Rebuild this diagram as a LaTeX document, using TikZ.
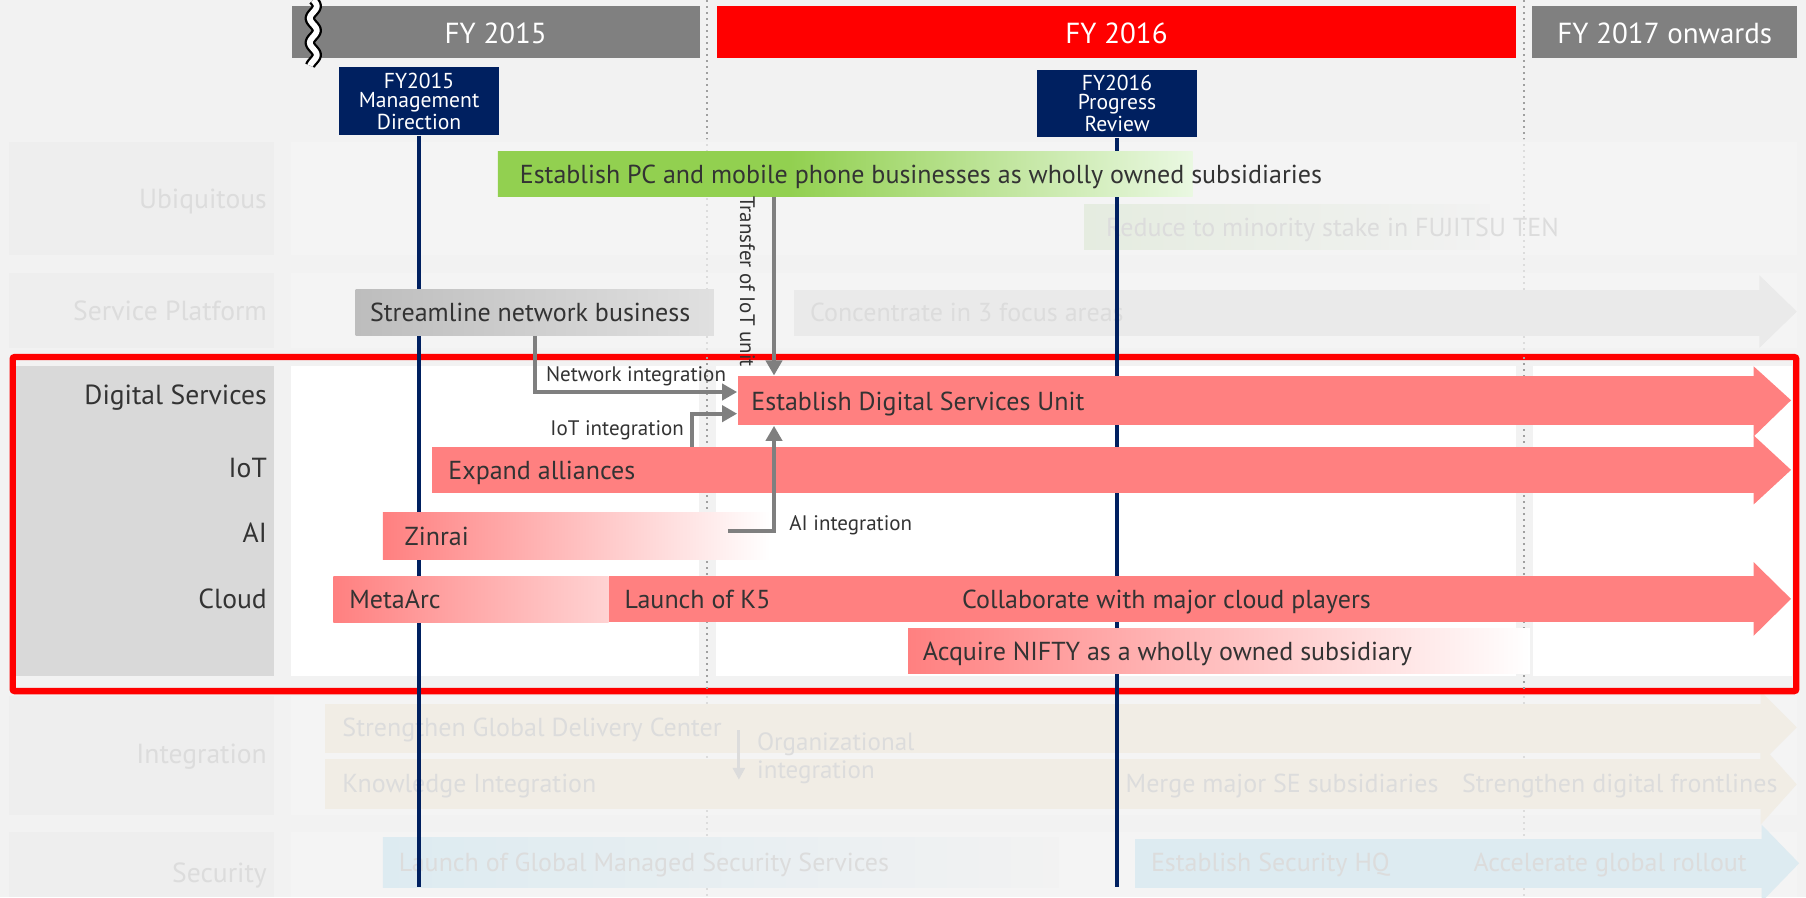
\documentclass[tikz,border=0pt]{standalone}
\usepackage{fontspec}
\setmainfont{PT Sans}
\usetikzlibrary{arrows.meta}

\definecolor{pagebg}{HTML}{F2F2F2}
\definecolor{panelL}{HTML}{EEEEEE}
\definecolor{panelR}{HTML}{F4F4F4}
\definecolor{yeargray}{HTML}{808080}
\definecolor{navy}{HTML}{002060}
\definecolor{barred}{HTML}{FF8080}
\definecolor{barpink}{HTML}{FFD3D3}
\definecolor{dsgray}{HTML}{D9D9D9}
\definecolor{ink}{HTML}{333333}
\definecolor{ghost}{HTML}{DCDCDC}
\definecolor{conn}{HTML}{7F7F7F}
\definecolor{leaf}{HTML}{92D050}
\definecolor{leafpale}{HTML}{EAF8E2}
\definecolor{tenleaf}{HTML}{E5ECE0}
\definecolor{slate}{HTML}{BDBDBD}
\definecolor{slatepale}{HTML}{E0E0E0}
\definecolor{fog}{HTML}{EAEAEA}
\definecolor{sand}{HTML}{F1EDE5}
\definecolor{ice}{HTML}{DDEBF1}
\definecolor{dotdark}{HTML}{A0A0A0}
\definecolor{dotpale}{HTML}{DCDCDC}

\newcommand{\un}{0.5759pt}
\pgfdeclarehorizontalshading{pcfade}{100bp}{color(0bp)=(leaf); color(46bp)=(leaf); color(75bp)=(leafpale); color(100bp)=(leafpale)}

\begin{document}
\begin{tikzpicture}[x=\un, y=-\un,
    year/.style={fill=#1, text=white, minimum height=45*\un, inner sep=0pt,
      anchor=north west, text height=2.2ex, text depth=0pt,
      font=\fontsize{14.5}{16}\selectfont},
    milestone/.style={fill=navy, text=white, align=center, minimum width=139*\un,
      minimum height=59*\un, inner sep=0pt, anchor=north west,
      font=\fontsize{10.8}{9.8}\selectfont},
    slab/.style args={#1/#2}{minimum width=#1*\un, minimum height=#2*\un,
      inner sep=0pt, anchor=north west},
    bar text/.style={anchor=west, inner sep=0pt, text=ink, text height=1.9ex,
      text depth=0pt, font=\fontsize{13}{15}\selectfont},
    ghost text/.style={bar text, text=ghost},
    row label/.style={anchor=east, inner sep=0pt, text=#1, text height=1.9ex,
      text depth=0pt, font=\fontsize{13.8}{16}\selectfont},
    dotline/.style={draw=#1, line width=1pt, dash pattern=on 1pt off 2pt},
    link/.style={draw=conn, line width=1.9pt, -{Triangle[length=7.5pt,width=8pt]}},
    link label/.style={text=ink, inner sep=0pt, font=\fontsize{10.5}{12}\selectfont}]

\fill[pagebg] (0,0) rectangle (1568,779);
\useasboundingbox (0,0) rectangle (1568,779);

\fill[panelL] (8,123) rectangle (238,221);
\fill[panelR] (253,123) rectangle (1560,221);
\fill[panelL] (8,237) rectangle (238,302);
\fill[panelR] (253,237) rectangle (1560,302);
\fill[panelL] (8,604) rectangle (238,708);
\fill[panelR] (253,604) rectangle (1560,708);
\fill[panelL] (8,722) rectangle (238,779);
\fill[panelR] (253,722) rectangle (1560,779);

\draw[dotline=dotpale] (614,0) -- (614,779);
\draw[dotline=dotpale] (1323,0) -- (1323,779);
\draw[dotline=dotdark] (614,0) -- (614,120);
\draw[dotline=dotdark] (1323,0) -- (1323,120);

\node[year=yeargray, minimum width=354*\un] (fy15) at (253,5) {FY 2015};
\node[year=red, minimum width=694*\un] (fy16) at (622,5) {FY 2016};
\node[year=yeargray, minimum width=230*\un] (fy17) at (1330,5) {FY 2017 onwards};
\draw[black, line width=9*\un] plot[domain=0:57, samples=60, smooth] ({272+3*sin(\x*17)}, \x);
\draw[white, line width=5*\un] plot[domain=0:57, samples=60, smooth] ({272+3*sin(\x*17)}, \x);

\node[row label=ghost] (ubi) at (232,173) {Ubiquitous};
\node[row label=ghost] (svc) at (232,270) {Service Platform};
\node[row label=ghost] (intg) at (232,655) {Integration};
\node[row label=ghost] (sec) at (232,758) {Security};

\node[slab=352/39, left color=tenleaf, right color=pagebg] (ten) at (941,177) {};
\node[ghost text] (tent) at (960,197) {Reduce to minority stake in FUJITSU TEN};

\node[slab=839/40, fill=fog] (foc) at (689,251) {};
\fill[fog] (1527.5,239) -- (1560,270.5) -- (1527.5,302) -- cycle;
\node[ghost text] (foct) at (703,271) {Concentrate in 3 focus areas};

\node[slab=1247/42, fill=sand] (gdc) at (282,611) {};
\fill[sand] (1528.5,600) -- (1560,631.5) -- (1528.5,663) -- cycle;
\node[slab=1247/43, fill=sand] (know) at (282,659) {};
\fill[sand] (1528.5,646) -- (1560,681) -- (1528.5,716) -- cycle;
\node[ghost text] (gdct) at (297,631) {Strengthen Global Delivery Center};
\node[ghost text] (knowt) at (297,680) {Knowledge Integration};
\coordinate (orgtop) at (641.5,634);
\coordinate (orgbot) at (641.5,677);
\draw[draw=ghost, line width=1.5pt, -{Triangle[length=6pt,width=6pt]}] (orgtop) -- (orgbot);
\node[ghost text, align=left, font=\fontsize{12.5}{14}\selectfont, text height=, text depth=, anchor=west] (orgt) at (657,658) {Organizational\\integration};
\node[ghost text] (merget) at (977,680) {Merge major SE subsidiaries};
\node[ghost text] (frontt) at (1269,680) {Strengthen digital frontlines};

\node[slab=587/43, left color=ice, right color=pagebg] (mss) at (332,727) {};
\node[ghost text] (msst) at (346,748) {Launch of Global Managed Security Services};
\node[slab=545/43, fill=ice] (shq) at (985,728) {};
\fill[ice] (1529.5,716) -- (1562,749.5) -- (1529.5,783) -- cycle;
\node[ghost text] (shqt) at (999,748) {Establish Security HQ};
\node[ghost text] (rollt) at (1279,748) {Accelerate global rollout};

\fill[pagebg] (11,310) rectangle (1559.5,600);
\fill[dsgray] (14,318) rectangle (238,587);
\fill[white] (253,318) rectangle (607,587);
\fill[white] (622,318) rectangle (1316,587);
\fill[white] (1331,318) rectangle (1556,587);
\draw[red, line width=5.5*\un, rounded corners=1pt] (11,310) rectangle (1559.5,600);
\draw[dotline=dotdark] (614,310) -- (614,600);
\draw[dotline=dotdark] (1323,310) -- (1323,600);

\node[milestone] (md15) at (294,58) {FY2015\\Management\\Direction};
\node[milestone] (pr16) at (900,60) {FY2016\\Progress\\Review};
\draw[navy, line width=3*\un] (md15.south) -- (md15.south |- 0,770);
\draw[navy, line width=3*\un] (pr16.south) -- (pr16.south |- 0,770);

\node[slab=603/39, shade, shading=pcfade] (pc) at (432,131) {};
\node[bar text] (pct) at (451,151) {Establish PC and mobile phone businesses as wholly owned subsidiaries};
\node[slab=311/40, left color=slate, right color=slatepale] (sn) at (308.5,251) {};
\node[bar text] (snt) at (321,271) {Streamline network business};

\node[slab=883/43, fill=barred] (ds) at (640,326) {};
\fill[barred] (1522.5,318) -- (1555,347.5) -- (1522.5,379) -- cycle;
\node[bar text] (dst) at (652,348) {Establish Digital Services Unit};
\node[slab=1148/40, fill=barred] (iot) at (375,388) {};
\fill[barred] (1522.5,378) -- (1555,408) -- (1522.5,438) -- cycle;
\node[bar text] (iott) at (389,408) {Expand alliances};
\node[slab=336/40, left color=barred, right color=white] (zin) at (332,445) {};
\node[bar text] (zint) at (351,465) {Zinrai};
\node[slab=239/40, left color=barred, right color=barpink] (meta) at (289,500) {};
\node[bar text] (metat) at (303,520) {MetaArc};
\node[slab=995/40, fill=barred] (k5) at (528,500) {};
\fill[barred] (1522.5,488) -- (1555,520) -- (1522.5,552) -- cycle;
\node[bar text] (k5t) at (542,520) {Launch of K5};
\node[bar text] (collt) at (835,520) {Collaborate with major cloud players};
\node[slab=540/39, left color=barred, right color=white] (nif) at (788,545) {};
\node[bar text] (nift) at (801,565) {Acquire NIFTY as a wholly owned subsidiary};

\coordinate (dsin) at ([xshift=32*\un]ds.north west);
\coordinate (dsout) at ([xshift=32*\un]ds.south west);
\coordinate (aistart) at (632,461);
\draw[link] (sn.south) |- ([yshift=7.5*\un]ds.west)
  node[pos=0.75, above=2pt, link label] (netl) {Network integration};
\draw[link] ([xshift=225.6*\un]iot.north west) |- ([yshift=-11.3*\un]ds.west)
  node[pos=0.25, left=3pt, link label] (iotl) {IoT integration};
\draw[link] (pc.south -| dsin) -- (dsin);
\node[link label, rotate=-90] (trl) at (649,244.5) {Transfer of IoT unit};
\draw[link] (aistart) -| (dsout);
\node[link label, anchor=west] (ail) at (685,456) {AI integration};

\node[row label=ink] (dsl) at (232,343) {Digital Services};
\node[row label=ink] (iotlab) at (232,406) {IoT};
\node[row label=ink] (ailab) at (232,463) {AI};
\node[row label=ink] (cloud) at (232,520) {Cloud};

\end{tikzpicture}
\end{document}
